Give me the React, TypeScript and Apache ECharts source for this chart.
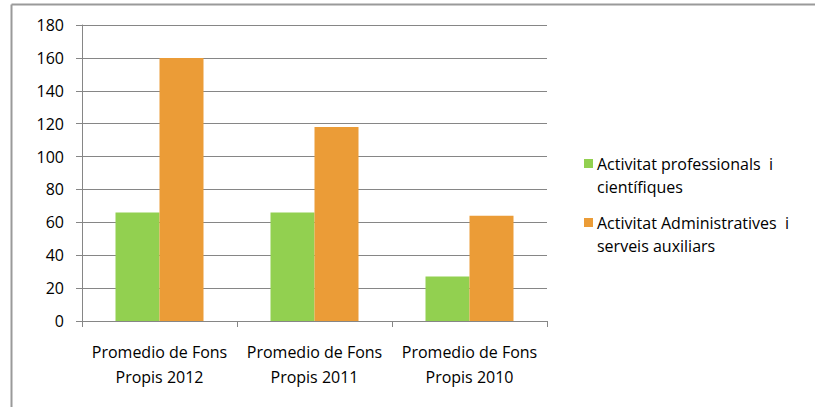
import React, { useEffect, useRef } from "react";
import * as echarts from "echarts";

const categories = ["Promedio de Fons\nPropis 2012", "Promedio de Fons\nPropis 2011", "Promedio de Fons\nPropis 2010"];
const seriesNames = ["Activitat professionals  i\ncientífiques", "Activitat Administratives  i\nserveis auxiliars"];
const professionals = [66, 66, 27];
const administratives = [160, 118, 64];
const yTicks = { min: 0, max: 180, interval: 20 };

const FONT = "'Open Sans', 'Noto Sans', sans-serif";
const LEGEND_ICON = "path://M0,0H9V9H0Z M0,32H0.001V32.001H0Z";

export default function App() {
  const ref = useRef<HTMLDivElement>(null);
  useEffect(() => {
    document.body.style.margin = "0";
    const chart = echarts.init(ref.current!, null, { renderer: "svg" });
    chart.setOption({
      animation: false,
      backgroundColor: "#ffffff",
      textStyle: { fontFamily: FONT },
      grid: { left: 82, right: 268, top: 25, bottom: 86 },
      legend: {
        orient: "vertical",
        left: 579,
        top: 147,
        itemGap: 13,
        icon: LEGEND_ICON,
        itemWidth: 9,
        itemHeight: 32,
        textStyle: { fontFamily: FONT, fontSize: 16, color: "#000", lineHeight: 23, padding: [0, 0, 0, -1] },
        data: seriesNames,
      },
      xAxis: {
        type: "category",
        data: categories,
        axisLine: { lineStyle: { color: "#868686", width: 1 } },
        axisTick: { show: true, length: 6, lineStyle: { color: "#868686" } },
        axisLabel: {
          color: "#000",
          fontSize: 16,
          fontFamily: FONT,
          lineHeight: 25,
          margin: 18,
          interval: 0,
          hideOverlap: false,
        },
      },
      yAxis: {
        type: "value",
        min: yTicks.min,
        max: yTicks.max,
        interval: yTicks.interval,
        axisLine: { show: true, lineStyle: { color: "#868686" } },
        axisTick: { show: true, length: 6, lineStyle: { color: "#868686" } },
        axisLabel: { color: "#000", fontSize: 16, fontFamily: FONT, margin: 18 },
        splitLine: { lineStyle: { color: "#868686", width: 1 } },
      },
      series: [
        {
          name: seriesNames[0],
          type: "bar",
          data: professionals,
          barWidth: 44,
          barGap: "0%",
          itemStyle: { color: "#92D050" },
        },
        {
          name: seriesNames[1],
          type: "bar",
          data: administratives,
          barWidth: 44,
          barGap: "0%",
          itemStyle: { color: "#EB9C37" },
        },
      ],
      graphic: [
        { type: "line", shape: { x1: 11.5, y1: 4.5, x2: 815, y2: 4.5 }, style: { stroke: "#9a9a9a", lineWidth: 2 } },
        { type: "line", shape: { x1: 11.5, y1: 4.5, x2: 11.5, y2: 407 }, style: { stroke: "#9a9a9a", lineWidth: 2 } },
      ],
    });
    return () => chart.dispose();
  }, []);
  return <div ref={ref} style={{ width: 815, height: 407 }} />;
}
